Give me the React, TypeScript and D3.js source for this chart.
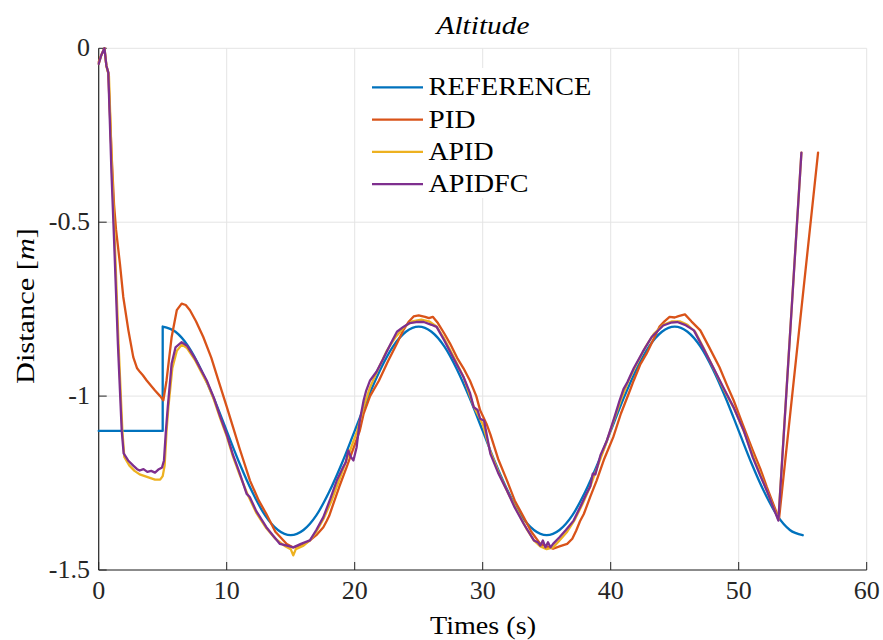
import React from "react";
import * as d3 from "d3";

// ---------- data ----------
const refT = [0, 5, 5, 6, 7, 8, 9, 10, 11, 12, 13, 14, 15, 16, 17, 18, 19, 20, 21, 22, 23, 24, 25, 26, 27, 28, 29, 30, 31, 32, 33, 34, 35, 36, 37, 38, 39, 40, 41, 42, 43, 44, 45, 46, 47, 48, 49, 50, 51, 52, 53, 54, 55];
const refY = [-1.1, -1.1, -0.8, -0.815, -0.857, -0.924, -1.007, -1.1, -1.193, -1.276, -1.343, -1.385, -1.4, -1.385, -1.343, -1.276, -1.193, -1.1, -1.007, -0.924, -0.857, -0.815, -0.8, -0.815, -0.857, -0.924, -1.007, -1.1, -1.193, -1.276, -1.343, -1.385, -1.4, -1.385, -1.343, -1.276, -1.193, -1.1, -1.007, -0.924, -0.857, -0.815, -0.8, -0.815, -0.857, -0.924, -1.007, -1.1, -1.193, -1.276, -1.343, -1.385, -1.4];

const pidT = [0, 0.2, 0.45, 0.6, 0.75, 1.0, 1.2, 1.35, 1.66, 1.92, 2.32, 2.7, 3.0, 3.23, 3.45, 3.75, 4.4, 4.8, 5.05, 5.3, 5.7, 6.1, 6.48, 6.8, 7.13, 7.6, 8.17, 8.8, 9.35, 10, 10.5, 11, 11.82, 12.5, 13.1, 13.8, 14.69, 15.2, 15.8, 16.5, 17.0, 17.55, 17.8, 18.0, 18.33, 18.8, 19.37, 19.9, 20.4, 20.7, 21.2, 21.9, 22.6, 23.3, 23.8, 24.2, 24.6, 25.0, 25.5, 25.8, 26.1, 26.5, 27.0, 27.45, 28.0, 28.5, 29.0, 29.5, 29.8, 30.3, 30.6, 31.2, 31.9, 32.5, 33.2, 33.8, 34.5, 35.0, 35.5, 36.0, 36.6, 37.0, 37.3, 37.6, 37.9, 38.4, 38.9, 39.5, 40.2, 40.8, 41.5, 41.8, 42.3, 42.8, 43.3, 43.8, 44.2, 44.6, 45.0, 45.3, 45.8, 46.3, 47.0, 47.7, 48.5, 49.1, 49.6, 50.3, 51.1, 51.7, 52.2, 52.7, 53.15, 56.2];
const pidY = [-0.04, -0.02, 0.0, -0.05, -0.07, -0.3, -0.45, -0.52, -0.62, -0.715, -0.811, -0.888, -0.92, -0.931, -0.94, -0.955, -0.984, -1.0, -1.012, -0.955, -0.83, -0.753, -0.734, -0.738, -0.753, -0.785, -0.83, -0.89, -0.955, -1.03, -1.09, -1.15, -1.243, -1.3, -1.339, -1.39, -1.425, -1.435, -1.43, -1.415, -1.4, -1.377, -1.36, -1.345, -1.31, -1.26, -1.204, -1.15, -1.099, -1.05, -1.0, -0.955, -0.9, -0.849, -0.81, -0.787, -0.771, -0.768, -0.772, -0.776, -0.772, -0.79, -0.82, -0.849, -0.89, -0.92, -0.955, -1.0, -1.041, -1.08, -1.11, -1.18, -1.243, -1.3, -1.348, -1.39, -1.425, -1.432, -1.439, -1.432, -1.425, -1.41, -1.387, -1.36, -1.339, -1.29, -1.243, -1.18, -1.118, -1.05, -0.984, -0.955, -0.91, -0.878, -0.84, -0.801, -0.785, -0.772, -0.774, -0.77, -0.765, -0.785, -0.811, -0.86, -0.917, -0.97, -1.012, -1.08, -1.156, -1.21, -1.262, -1.31, -1.353, -0.3];

const apidT = [0, 0.2, 0.45, 0.6, 0.8, 1.05, 1.25, 1.55, 1.85, 2.0, 2.4, 2.8, 3.2, 3.6, 4.0, 4.4, 4.8, 5.0, 5.15, 5.3, 5.45, 5.75, 6.1, 6.5, 6.9, 7.5, 8.0, 8.5, 9.0, 9.5, 10, 10.5, 11, 11.6, 12.3, 13.1, 13.8, 14.5, 15.0, 15.2, 15.4, 16.0, 16.5, 17.0, 17.6, 18.2, 18.7, 19.2, 19.7, 20.2, 20.7, 21.2, 21.8, 22.5, 23.2, 23.9, 24.5, 25.2, 25.8, 26.4, 27.0, 27.7, 28.5, 29.3, 30.0, 30.6, 31.3, 32.0, 32.7, 33.4, 34.0, 34.5, 35.0, 35.5, 36.0, 36.6, 37.2, 37.8, 38.4, 39.0, 39.6, 40.2, 40.8, 41.4, 42.0, 42.7, 43.4, 44.1, 44.8, 45.4, 46.0, 46.6, 47.3, 48.1, 48.9, 49.7, 50.5, 51.2, 51.8, 52.4, 53.1, 54.9];
const apidY = [-0.045, -0.02, 0.0, -0.05, -0.08, -0.36, -0.55, -0.85, -1.1, -1.175, -1.2, -1.215, -1.225, -1.23, -1.235, -1.24, -1.24, -1.23, -1.2, -1.1, -1.03, -0.92, -0.87, -0.852, -0.862, -0.895, -0.93, -0.965, -1.01, -1.065, -1.115, -1.175, -1.225, -1.28, -1.335, -1.38, -1.41, -1.43, -1.44, -1.458, -1.44, -1.43, -1.415, -1.39, -1.35, -1.3, -1.25, -1.2, -1.15, -1.1, -1.03, -0.975, -0.925, -0.87, -0.83, -0.8, -0.785, -0.78, -0.785, -0.8, -0.835, -0.885, -0.945, -1.03, -1.08, -1.16, -1.225, -1.28, -1.33, -1.38, -1.415, -1.432, -1.44, -1.435, -1.415, -1.39, -1.355, -1.31, -1.26, -1.2, -1.14, -1.075, -1.01, -0.955, -0.91, -0.86, -0.82, -0.795, -0.785, -0.785, -0.795, -0.815, -0.865, -0.925, -0.985, -1.04, -1.11, -1.18, -1.235, -1.29, -1.355, -0.3];

const apidfcT = [0, 0.2, 0.45, 0.6, 0.75, 1.0, 1.2, 1.5, 1.8, 1.95, 2.3, 2.7, 3.0, 3.2, 3.5, 3.8, 4.1, 4.4, 4.7, 4.95, 5.1, 5.25, 5.4, 5.7, 6.0, 6.48, 6.9, 7.5, 8.0, 8.44, 9.0, 9.5, 10, 10.5, 11.0, 11.56, 11.8, 12.3, 13.1, 13.6, 14.16, 14.7, 15.2, 15.8, 16.5, 17.0, 17.55, 18.1, 18.6, 19.1, 19.3, 19.5, 19.7, 19.9, 20.15, 20.4, 20.7, 20.9, 21.2, 21.7, 22.2, 22.8, 23.3, 23.8, 24.3, 24.8, 25.4, 26.0, 26.4, 27.0, 27.7, 28.5, 29.0, 29.3, 29.6, 29.8, 30.1, 30.6, 31.2, 31.9, 32.5, 33.2, 34.0, 34.3, 34.5, 34.7, 34.9, 35.1, 35.3, 35.5, 36.0, 36.5, 37.1, 37.6, 38.1, 38.4, 38.6, 38.8, 39.2, 39.7, 40.3, 40.7, 41.0, 41.3, 41.8, 42.5, 43.2, 44.1, 44.7, 45.2, 45.8, 46.5, 47.2, 48.0, 48.8, 49.6, 50.4, 51.1, 51.7, 52.2, 52.7, 53.1, 54.9];
const apidfcY = [-0.045, -0.02, 0.0, -0.05, -0.07, -0.36, -0.55, -0.85, -1.1, -1.165, -1.185, -1.2, -1.21, -1.214, -1.21, -1.218, -1.215, -1.22, -1.21, -1.205, -1.185, -1.1, -1.03, -0.906, -0.86, -0.845, -0.855, -0.89, -0.925, -0.955, -1.005, -1.06, -1.11, -1.17, -1.22, -1.281, -1.29, -1.33, -1.377, -1.4, -1.425, -1.43, -1.435, -1.425, -1.415, -1.385, -1.348, -1.295, -1.243, -1.204, -1.19, -1.156, -1.175, -1.185, -1.147, -1.07, -1.012, -0.984, -0.955, -0.93, -0.895, -0.85, -0.815, -0.801, -0.79, -0.787, -0.787, -0.795, -0.801, -0.84, -0.89, -0.945, -0.99, -1.032, -1.04, -1.065, -1.07, -1.166, -1.22, -1.272, -1.32, -1.367, -1.415, -1.42, -1.43, -1.415, -1.435, -1.42, -1.435, -1.425, -1.406, -1.385, -1.358, -1.32, -1.281, -1.26, -1.223, -1.225, -1.17, -1.128, -1.06, -1.012, -0.98, -0.96, -0.92, -0.873, -0.83, -0.797, -0.789, -0.787, -0.795, -0.811, -0.86, -0.917, -0.975, -1.032, -1.1, -1.176, -1.23, -1.272, -1.32, -1.358, -0.3];

const seriesNames = ["REFERENCE", "PID", "APID", "APIDFC"];
const seriesColors = ["#0072BD", "#D95319", "#EDB120", "#7E2F8E"];
const xTicks = [0, 10, 20, 30, 40, 50, 60];
const yTicks = [0, -0.5, -1, -1.5];
const yTickLabels = ["0", "-0.5", "-1", "-1.5"];

const W = 883;
const H = 640;
const FONT = "'Liberation Serif', 'DejaVu Serif', serif";

type P = [number, number];

export default function App() {
  const x = d3.scaleLinear().domain([0, 60]).range([98.7, 866.7]);
  const y = d3.scaleLinear().domain([-1.5, 0]).range([570, 48.3]);
  const lin = d3.line<P>().x((d) => x(d[0])).y((d) => y(d[1]));
  const smooth = d3.line<P>().x((d) => x(d[0])).y((d) => y(d[1])).curve(d3.curveMonotoneX);

  // smooth reference curve, split at its vertical step
  const smoothPath = (pts: P[]) => {
    let d = "";
    let start = 0;
    for (let i = 1; i < pts.length; i++) {
      if (pts[i][0] === pts[i - 1][0]) {
        const seg = pts.slice(start, i);
        if (seg.length > 1) d += smooth(seg) || "";
        d += lin([pts[i - 1], pts[i]]) || "";
        start = i;
      }
    }
    const seg = pts.slice(start);
    if (seg.length > 1) d += smooth(seg) || "";
    return d;
  };

  const series: P[][] = [
    refT.map((t, i) => [t, refY[i]] as P),
    pidT.map((t, i) => [t, pidY[i]] as P),
    apidT.map((t, i) => [t, apidY[i]] as P),
    apidfcT.map((t, i) => [t, apidfcY[i]] as P),
  ];

  const legendY = [87.3, 119.6, 151.9, 184.2];
  const legendLen = [163, 47, 65, 100];

  return (
    <svg
      width={W}
      height={H}
      style={{ position: "absolute", left: 0, top: 0, background: "#fff" }}
      fontFamily={FONT}
    >
      <rect x={0} y={0} width={W} height={H} fill="#fff" />
      {/* grid */}
      {xTicks.map((t) => (
        <line key={"gx" + t} x1={x(t)} x2={x(t)} y1={y(0)} y2={y(-1.5)} stroke="#e4e4e4" strokeWidth={1} />
      ))}
      {yTicks.map((t) => (
        <line key={"gy" + t} x1={x(0)} x2={x(60)} y1={y(t)} y2={y(t)} stroke="#e4e4e4" strokeWidth={1} />
      ))}
      {/* axes */}
      <line x1={x(0)} x2={x(0)} y1={y(0)} y2={y(-1.5)} stroke="#262626" strokeWidth={1.2} />
      <line x1={x(0)} x2={x(60)} y1={y(-1.5)} y2={y(-1.5)} stroke="#262626" strokeWidth={1.2} />
      {xTicks.map((t) => (
        <line key={"tx" + t} x1={x(t)} x2={x(t)} y1={y(-1.5)} y2={y(-1.5) - 8} stroke="#262626" strokeWidth={1} />
      ))}
      {yTicks.map((t) => (
        <line key={"ty" + t} x1={x(0)} x2={x(0) + 8} y1={y(t)} y2={y(t)} stroke="#262626" strokeWidth={1} />
      ))}
      {/* tick labels */}
      {xTicks.map((t) => (
        <text key={"lx" + t} x={x(t)} y={599} textAnchor="middle" fontSize={26} fill="#262626">
          {t}
        </text>
      ))}
      {yTicks.map((t, i) => (
        <text key={"ly" + t} x={90} y={y(t) + 8} textAnchor="end" fontSize={26} fill="#262626">
          {yTickLabels[i]}
        </text>
      ))}
      {/* lines */}
      <g>
        {series.map((s, i) => (
          <path
            key={"s" + i}
            d={i === 0 ? smoothPath(s) : lin(s) || ""}
            fill="none"
            stroke={seriesColors[i]}
            strokeWidth={2.3}
            strokeLinejoin="round"
            strokeLinecap="round"
          />
        ))}
      </g>
      {/* legend */}
      <rect x={365} y={68} width={235} height={130} fill="#fff" />
      {seriesNames.map((n, i) => (
        <g key={"lg" + i}>
          <line x1={372} x2={423} y1={legendY[i]} y2={legendY[i]} stroke={seriesColors[i]} strokeWidth={2.3} />
          <text
            x={428.5}
            y={legendY[i] + 8}
            fontSize={26}
            fill="#000"
            textLength={legendLen[i]}
            lengthAdjust="spacingAndGlyphs"
          >
            {n}
          </text>
        </g>
      ))}
      {/* title & labels */}
      <text x={483} y={34} textAnchor="middle" fontSize={26} fontStyle="italic" fill="#000" textLength={93} lengthAdjust="spacingAndGlyphs">
        Altitude
      </text>
      <text x={483} y={634} textAnchor="middle" fontSize={26} fill="#000" textLength={106} lengthAdjust="spacingAndGlyphs">
        Times (s)
      </text>
      <text transform="translate(34,306) rotate(-90)" textAnchor="middle" fontSize={26} fill="#000" textLength={156} lengthAdjust="spacingAndGlyphs">
        Distance [<tspan fontStyle="italic">m</tspan>]
      </text>
    </svg>
  );
}
